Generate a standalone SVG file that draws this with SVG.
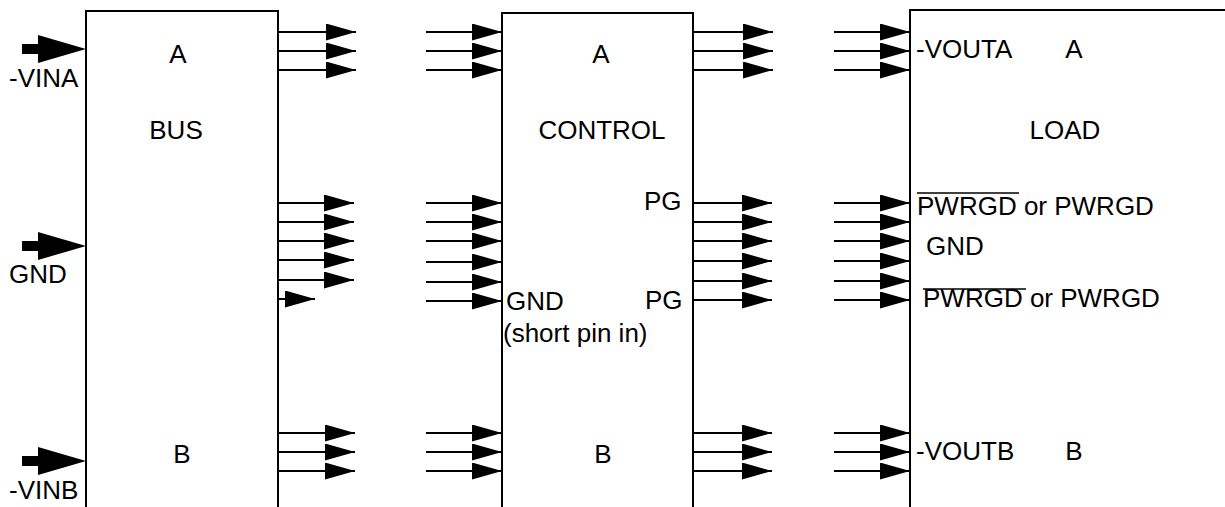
<svg xmlns="http://www.w3.org/2000/svg" width="1225" height="507" viewBox="0 0 1225 507">
<defs>
<style>
.box{fill:#fff;stroke:#000;stroke-width:2}
.w{stroke:#000;stroke-width:2;fill:none}
.t{font-family:"Liberation Sans",Arial,sans-serif;font-size:26px;fill:#000}
.m{text-anchor:middle}
.ov{stroke:#000;stroke-width:1.6}
</style>
<marker id="ah" markerUnits="userSpaceOnUse" markerWidth="30" markerHeight="17" refX="30" refY="8.5" orient="auto" viewBox="0 0 30 17">
<path d="M0,0 L30,8.5 L0,17 Z" fill="#000"/>
</marker>
<g id="big">
<rect x="22" y="-5" width="17" height="10" fill="#000"/>
<path d="M38,-14 L86,0 L38,14 Z" fill="#000"/>
</g>
</defs>
<rect width="1225" height="507" fill="#fff"/>

<g id="bus">
<rect class="box" x="86" y="11" width="192" height="520"/>
<text class="t m" x="178" y="63">A</text>
<text class="t m" x="176" y="139">BUS</text>
<text class="t m" x="182" y="463">B</text>
</g>

<g id="control">
<rect class="box" x="502" y="13" width="191" height="520"/>
<text class="t m" x="601" y="63">A</text>
<text class="t m" x="602" y="139">CONTROL</text>
<text class="t" x="644" y="210">PG</text>
<text class="t" x="645" y="309">PG</text>
<text class="t" x="506" y="310">GND</text>
<text class="t" x="503" y="342">(short pin in)</text>
<text class="t m" x="603" y="463">B</text>
</g>

<g id="load">
<rect class="box" x="910" y="10" width="340" height="520"/>
<text class="t" x="916" y="58">-VOUTA</text>
<text class="t m" x="1074" y="58">A</text>
<text class="t m" x="1065" y="139">LOAD</text>
<text class="t" x="917" y="215">PWRGD or PWRGD</text>
<line class="ov" x1="917" y1="193" x2="1019" y2="193"/>
<text class="t" x="926" y="255">GND</text>
<text class="t" x="923" y="307">PWRGD or PWRGD</text>
<line class="ov" x1="923" y1="289" x2="1026" y2="289"/>
<text class="t" x="916" y="460">-VOUTB</text>
<text class="t m" x="1074" y="460">B</text>
</g>

<g id="inputs">
<use href="#big" y="49"/>
<text class="t" x="9" y="87">-VINA</text>
<use href="#big" y="246"/>
<text class="t" x="9" y="283">GND</text>
<use href="#big" y="461"/>
<text class="t" x="9" y="499">-VINB</text>
</g>

<g id="connectors" class="w">
<line x1="278" y1="32" x2="356" y2="32" marker-end="url(#ah)"/>
<line x1="278" y1="51" x2="356" y2="51" marker-end="url(#ah)"/>
<line x1="278" y1="70" x2="356" y2="70" marker-end="url(#ah)"/>
<line x1="426" y1="32" x2="502" y2="32" marker-end="url(#ah)"/>
<line x1="426" y1="51" x2="502" y2="51" marker-end="url(#ah)"/>
<line x1="426" y1="70" x2="502" y2="70" marker-end="url(#ah)"/>
<line x1="693" y1="32" x2="773" y2="32" marker-end="url(#ah)"/>
<line x1="693" y1="51" x2="773" y2="51" marker-end="url(#ah)"/>
<line x1="693" y1="70" x2="773" y2="70" marker-end="url(#ah)"/>
<line x1="834" y1="32" x2="910" y2="32" marker-end="url(#ah)"/>
<line x1="834" y1="51" x2="910" y2="51" marker-end="url(#ah)"/>
<line x1="834" y1="70" x2="910" y2="70" marker-end="url(#ah)"/>

<line x1="278" y1="203" x2="354" y2="203" marker-end="url(#ah)"/>
<line x1="278" y1="222" x2="354" y2="222" marker-end="url(#ah)"/>
<line x1="278" y1="241" x2="354" y2="241" marker-end="url(#ah)"/>
<line x1="278" y1="260" x2="354" y2="260" marker-end="url(#ah)"/>
<line x1="278" y1="280" x2="354" y2="280" marker-end="url(#ah)"/>
<line x1="278" y1="299" x2="315" y2="299" marker-end="url(#ah)"/>
<line x1="426" y1="203" x2="502" y2="203" marker-end="url(#ah)"/>
<line x1="426" y1="222" x2="502" y2="222" marker-end="url(#ah)"/>
<line x1="426" y1="241" x2="502" y2="241" marker-end="url(#ah)"/>
<line x1="426" y1="262" x2="502" y2="262" marker-end="url(#ah)"/>
<line x1="426" y1="282" x2="502" y2="282" marker-end="url(#ah)"/>
<line x1="426" y1="301" x2="502" y2="301" marker-end="url(#ah)"/>
<line x1="693" y1="203" x2="772" y2="203" marker-end="url(#ah)"/>
<line x1="693" y1="222" x2="772" y2="222" marker-end="url(#ah)"/>
<line x1="693" y1="241" x2="772" y2="241" marker-end="url(#ah)"/>
<line x1="693" y1="261" x2="772" y2="261" marker-end="url(#ah)"/>
<line x1="693" y1="281" x2="772" y2="281" marker-end="url(#ah)"/>
<line x1="693" y1="300" x2="772" y2="300" marker-end="url(#ah)"/>
<line x1="834" y1="203" x2="910" y2="203" marker-end="url(#ah)"/>
<line x1="834" y1="222" x2="910" y2="222" marker-end="url(#ah)"/>
<line x1="834" y1="241" x2="910" y2="241" marker-end="url(#ah)"/>
<line x1="834" y1="261" x2="910" y2="261" marker-end="url(#ah)"/>
<line x1="834" y1="281" x2="910" y2="281" marker-end="url(#ah)"/>
<line x1="834" y1="300" x2="910" y2="300" marker-end="url(#ah)"/>

<line x1="278" y1="433" x2="355" y2="433" marker-end="url(#ah)"/>
<line x1="278" y1="452" x2="355" y2="452" marker-end="url(#ah)"/>
<line x1="278" y1="471" x2="355" y2="471" marker-end="url(#ah)"/>
<line x1="426" y1="433" x2="502" y2="433" marker-end="url(#ah)"/>
<line x1="426" y1="452" x2="502" y2="452" marker-end="url(#ah)"/>
<line x1="426" y1="471" x2="502" y2="471" marker-end="url(#ah)"/>
<line x1="693" y1="433" x2="772" y2="433" marker-end="url(#ah)"/>
<line x1="693" y1="452" x2="772" y2="452" marker-end="url(#ah)"/>
<line x1="693" y1="471" x2="772" y2="471" marker-end="url(#ah)"/>
<line x1="834" y1="433" x2="910" y2="433" marker-end="url(#ah)"/>
<line x1="834" y1="452" x2="910" y2="452" marker-end="url(#ah)"/>
<line x1="834" y1="471" x2="910" y2="471" marker-end="url(#ah)"/>
</g>
</svg>
